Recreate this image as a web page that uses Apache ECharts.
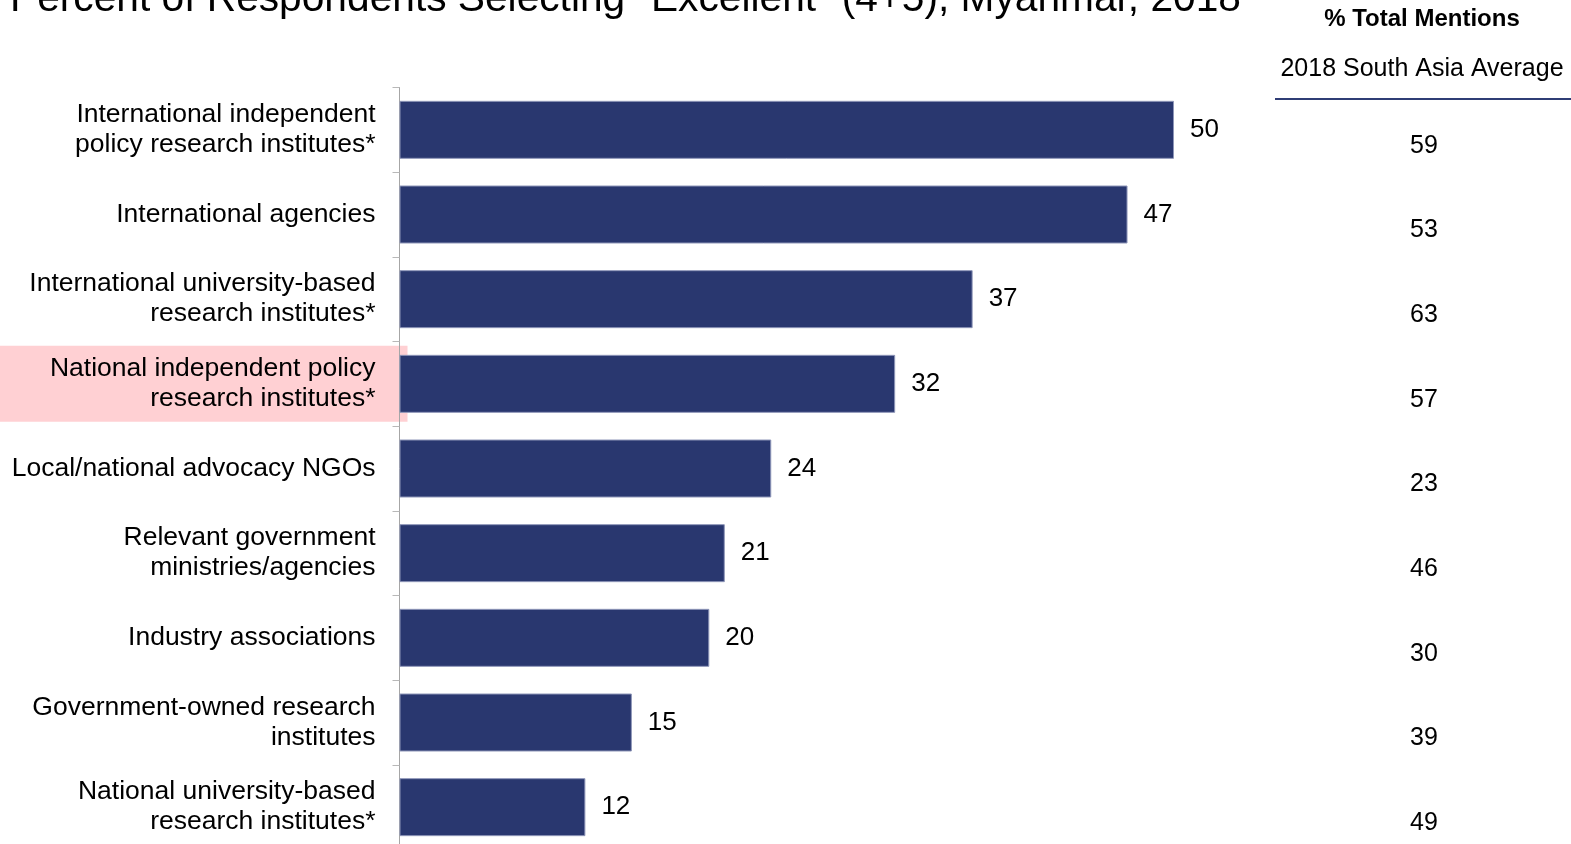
<!DOCTYPE html>
<html>
<head>
<meta charset="utf-8">
<script src="https://cdn.jsdelivr.net/npm/echarts@6/dist/echarts.min.js"></script>
<style>
  html, body { margin: 0; padding: 0; background: #fff; overflow: hidden; }
  /* the plot runs slightly past the bottom edge of the page */
  #chart { width: 1571px; height: 860px; }
</style>
</head>
<body>
<div id="chart"></div>
<script>
// Sources rated "Excellent" (4+5) by respondents in Myanmar, 2018
const categories = [
  'International independent\npolicy research institutes*',
  'International agencies',
  'International university-based\nresearch institutes*',
  'National independent policy\nresearch institutes*',
  'Local/national advocacy NGOs',
  'Relevant government\nministries/agencies',
  'Industry associations',
  'Government-owned research\ninstitutes',
  'National university-based\nresearch institutes*'
];
const myanmarValues = [50, 47, 37, 32, 24, 21, 20, 15, 12];
const southAsiaAverage = [59, 53, 63, 57, 23, 46, 30, 39, 49];
const highlightedCategory = 3;

const BAR_COLOR = '#29376f';
const FONT = '"Liberation Sans", Arial, sans-serif';

const chart = echarts.init(document.getElementById('chart'));

const option = {
  backgroundColor: '#ffffff',
  animation: false,
  grid: { left: 399.5, top: 87.5, width: 774.5, height: 762, containLabel: false },
  xAxis: {
    type: 'value', min: 0, max: 50, show: false
  },
  yAxis: [
    {
      type: 'category',
      data: categories,
      inverse: true,
      axisLine: { show: true, lineStyle: { color: '#a6a6a6', width: 1 } },
      axisTick: { show: true, length: 7, lineStyle: { color: '#b8b8b8' } },
      axisLabel: {
        margin: 24, color: '#000', fontFamily: FONT, fontSize: 26.5,
        lineHeight: 30, align: 'right'
      },
      z: 3
    },
    {
      // South Asia averages, sitting a little below each bar's centre line
      type: 'category',
      data: categories,
      inverse: true,
      position: 'right',
      axisLine: { show: false },
      axisTick: { show: false },
      axisLabel: {
        margin: 250, align: 'center', color: '#000', fontFamily: FONT, fontSize: 25,
        lineHeight: 32,
        formatter: (v, i) => '\n' + southAsiaAverage[i]
      }
    }
  ],
  series: [{
    type: 'bar',
    data: myanmarValues,
    barWidth: 58,
    itemStyle: { color: BAR_COLOR, borderColor: '#8e96b8', borderWidth: 1 },
    label: {
      show: true, position: 'right', distance: 16,
      color: '#000', fontFamily: FONT, fontSize: 26
    },
    z: 4
  }],
  graphic: [
    {
      type: 'text', left: 10, top: -21, z: 10,
      style: {
        text: 'Percent of Respondents Selecting "Excellent" (4+5), Myanmar, 2018',
        fontFamily: FONT, fontSize: 40.7, fill: '#000'
      }
    },
    {
      type: 'text', x: 1422, y: 19, z: 10,
      style: {
        text: '% Total Mentions', fontFamily: FONT, fontSize: 24, fontWeight: 'bold',
        fill: '#000', align: 'center', verticalAlign: 'middle'
      }
    },
    {
      type: 'text', x: 1422, y: 69, z: 10,
      style: {
        text: '2018 South Asia Average', fontFamily: FONT, fontSize: 25,
        fill: '#000', align: 'center', verticalAlign: 'middle'
      }
    },
    {
      type: 'line', z: 10,
      shape: { x1: 1275, y1: 99, x2: 1571, y2: 99 },
      style: { stroke: '#2f3d75', lineWidth: 2 }
    }
  ]
};

chart.setOption(option);

// Pink band behind the highlighted category label
const bandCenter = chart.convertToPixel({ yAxisIndex: 0 }, categories[highlightedCategory]);
const gridLeft = chart.convertToPixel({ xAxisIndex: 0 }, 0);
chart.setOption({
  graphic: [{
    id: 'highlight', type: 'rect', z: 0,
    shape: { x: 0, y: bandCenter - 38, width: gridLeft + 8, height: 76 },
    style: { fill: '#ffd0d3' }
  }]
});
</script>
</body>
</html>
